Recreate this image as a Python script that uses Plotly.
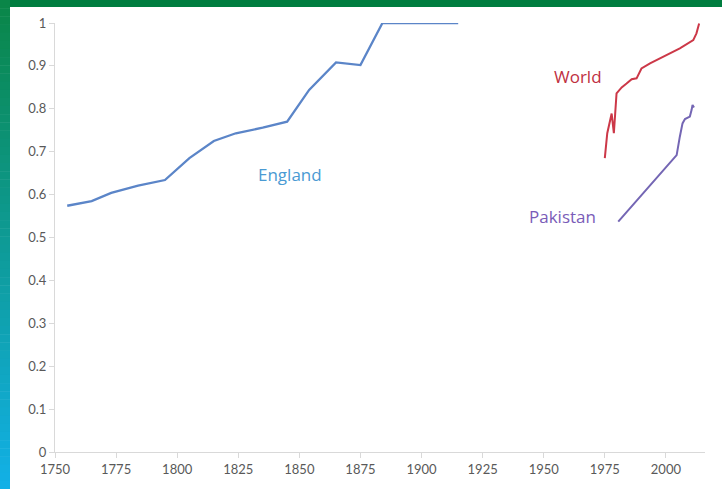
import plotly.graph_objects as go

# ---- data ----
england_years = [1755, 1765, 1773, 1784, 1795, 1805, 1815, 1824, 1835, 1845, 1854, 1865, 1875, 1884, 1895, 1905, 1915]
england_vals = [0.574, 0.585, 0.604, 0.621, 0.634, 0.685, 0.725, 0.743, 0.756, 0.770, 0.844, 0.908, 0.902, 1.0, 1.0, 1.0, 1.0]

world_years = [1975, 1976, 1977.8, 1978.7, 1979.8, 1981.9, 1983.9, 1986, 1988, 1990, 1993.5, 2000, 2005.7, 2011.2, 2012.5, 2013.6]
world_vals = [0.685, 0.743, 0.789, 0.743, 0.836, 0.850, 0.859, 0.869, 0.871, 0.894, 0.906, 0.925, 0.941, 0.960, 0.976, 0.999]

pak_years = [1980.5, 2004.4, 2005.7, 2006.8, 2007.8, 2009.8, 2010.5, 2010.9, 2011.5]
pak_vals = [0.537, 0.692, 0.735, 0.766, 0.776, 0.782, 0.797, 0.809, 0.803]

x_ticks = [1750, 1775, 1800, 1825, 1850, 1875, 1900, 1925, 1950, 1975, 2000]
y_ticks = [0, 0.1, 0.2, 0.3, 0.4, 0.5, 0.6, 0.7, 0.8, 0.9, 1]
y_labels = ["0", "0.1", "0.2", "0.3", "0.4", "0.5", "0.6", "0.7", "0.8", "0.9", "1"]

W, H = 722, 489
L, R, T, B = 55, 17, 23, 37
PW, PH = W - L - R, H - T - B

fig = go.Figure()
fig.add_trace(go.Scatter(x=england_years, y=england_vals, mode="lines",
                         line=dict(color="#5b85c8", width=2.3), name="England"))
fig.add_trace(go.Scatter(x=world_years, y=world_vals, mode="lines",
                         line=dict(color="#cc3848", width=2), name="World"))
fig.add_trace(go.Scatter(x=pak_years, y=pak_vals, mode="lines",
                         line=dict(color="#7466b4", width=2), name="Pakistan"))

def px2px(x):
    return (x - L) / PW

def py2py(y):
    return (H - B - y) / PH

shapes = []
# top green bar
shapes.append(dict(type="rect", xref="paper", yref="paper",
                   x0=px2px(0), x1=px2px(W), y0=py2py(7), y1=py2py(0),
                   fillcolor="#007d3f", line=dict(width=0), layer="above"))
# left gradient bar
n = 60
c0 = (0x0a, 0x86, 0x48)
c1 = (0x12, 0xb0, 0xe6)
for i in range(n):
    t = i / (n - 1)
    c = tuple(int(round(c0[k] + (c1[k] - c0[k]) * t)) for k in range(3))
    y0 = H * i / n
    y1 = H * (i + 1) / n + 0.5
    shapes.append(dict(type="rect", xref="paper", yref="paper",
                       x0=px2px(0), x1=px2px(10), y0=py2py(y1), y1=py2py(y0),
                       fillcolor="rgb(%d,%d,%d)" % c, line=dict(width=0), layer="above"))

annotations = [
    dict(x=1846, y=0.646, text="England", showarrow=False,
         font=dict(family="Open Sans", size=17, color="#4a9ad3")),
    dict(x=1964, y=0.876, text="World", showarrow=False,
         font=dict(family="Open Sans", size=17, color="#c0303f")),
    dict(x=1957.5, y=0.548, text="Pakistan", showarrow=False,
         font=dict(family="Open Sans", size=17, color="#7a5cb8")),
]

fig.update_layout(
    width=W, height=H,
    margin=dict(l=L, r=R, t=T, b=B),
    paper_bgcolor="white", plot_bgcolor="white",
    showlegend=False,
    shapes=shapes,
    annotations=annotations,
    font=dict(family="Lato", color="#595959", size=13),
)
fig.update_xaxes(range=[1750, 2016], tickvals=x_ticks, ticktext=[str(v) for v in x_ticks],
                 showgrid=False, zeroline=False, showline=True, linecolor="#d9d9d9", linewidth=1,
                 ticks="outside", ticklen=5, tickcolor="#d9d9d9",
                 tickfont=dict(family="Lato", size=13, color="#595959"))
fig.update_yaxes(range=[0, 1], tickvals=y_ticks, ticktext=y_labels,
                 showgrid=False, zeroline=False, showline=True, linecolor="#d9d9d9", linewidth=1,
                 ticks="outside", ticklen=5, tickcolor="#d9d9d9",
                 tickfont=dict(family="Lato", size=13, color="#595959"))

fig.write_html("out.html", config={"displayModeBar": False},
               post_script="document.body.style.margin='0';document.body.style.padding='0';document.body.style.overflow='hidden';")
